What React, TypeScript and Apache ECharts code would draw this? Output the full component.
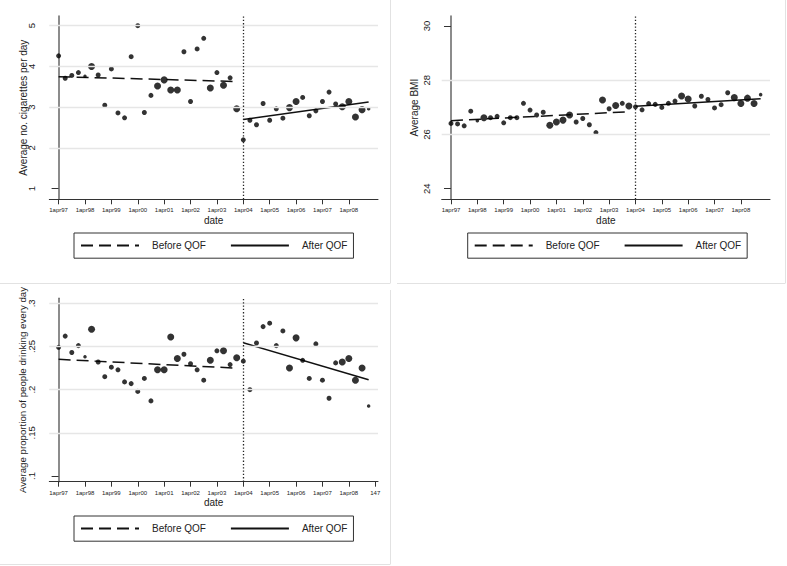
import React, { useEffect, useRef } from "react";
import * as echarts from "echarts";

// ---- data ----
const yearTickLabels = [
  "1apr97", "1apr98", "1apr99", "1apr00", "1apr01", "1apr02",
  "1apr03", "1apr04", "1apr05", "1apr06", "1apr07", "1apr08",
];
const drinkExtraTickLabel = "147";
const qofStartQuarter = 28;

const cigarettes = [
  4.26, 3.71, 3.78, 3.85, 3.76, 4.0, 3.79, 3.05, 3.94, 2.86,
  2.74, 4.24, 5.0, 2.87, 3.29, 3.52, 3.67, 3.42, 3.42, 4.36,
  3.14, 4.43, 4.69, 3.47, 3.85, 3.54, 3.72, 2.96, 2.2, 2.68,
  2.57, 3.09, 2.68, 2.96, 2.73, 2.99, 3.14, 3.24, 2.79, 2.91,
  3.14, 3.37, 3.08, 3.01, 3.14, 2.76, 2.94, 2.96,
];
const bmi = [
  26.41, 26.39, 26.32, 26.86, 26.51, 26.62, 26.62, 26.67, 26.43, 26.62,
  26.62, 27.15, 26.9, 26.72, 26.82, 26.34, 26.46, 26.53, 26.72, 26.46,
  26.59, 26.36, 26.07, 27.27, 26.95, 27.07, 27.15, 27.05, 27.02, 26.91,
  27.14, 27.11, 27.0, 27.15, 27.23, 27.42, 27.31, 27.05, 27.41, 27.29,
  26.98, 27.1, 27.54, 27.36, 27.14, 27.34, 27.14, 27.47,
];
const drinking = [
  0.249, 0.262, 0.243, 0.251, 0.238, 0.27, 0.232, 0.215, 0.226, 0.223,
  0.209, 0.207, 0.198, 0.213, 0.187, 0.223, 0.223, 0.261, 0.236, 0.241,
  0.23, 0.223, 0.211, 0.234, 0.245, 0.245, 0.229, 0.237, 0.233, 0.2,
  0.254, 0.273, 0.277, 0.251, 0.268, 0.225, 0.26, 0.234, 0.213, 0.253,
  0.211, 0.19, 0.231, 0.232, 0.236, 0.211, 0.225, 0.181,
];
// sample-size class of each quarter (1 small, 2 medium, 3 large)
const weights = [
  2, 2, 2, 2, 1, 3, 2, 2, 2, 2,
  2, 2, 2, 2, 2, 3, 3, 3, 3, 2,
  2, 2, 2, 3, 2, 3, 2, 3, 2, 2,
  2, 2, 2, 2, 2, 3, 3, 2, 2, 2,
  2, 2, 2, 3, 3, 3, 3, 1,
];
const cigFitBefore = [3.75, 3.63];
const cigFitAfter = [2.7, 3.13];
const bmiFitBefore = [26.51, 26.84];
const bmiFitAfter = [27.04, 27.32];
const drinkFitBefore = [0.2351, 0.2249];
const drinkFitAfter = [0.2543, 0.2114];

const cigTicks = [1, 2, 3, 4, 5];
const cigGrid = [2, 3, 4, 5];
const bmiTicks = [24, 26, 28, 30];
const bmiGrid = [26, 28];
const drinkTicks = [0.1, 0.15, 0.2, 0.25, 0.3];
const drinkGrid = [0.15, 0.2, 0.25, 0.3];

const FONT = "'Liberation Sans', Arial, Helvetica, sans-serif";
const sizeMap: Record<number, number> = { 1: 3.5, 2: 5, 3: 7 };

type Panel = {
  values: number[];
  before: number[];
  after: number[];
  ticks: number[];
  gridVals: number[];
  yName: string;
  yNameSize: number;
  yMin: number;
  yMax: number;
  labelMargin: number;
  nameGap: number;
  xLabels: string[];
  grid: { left: number; top: number; width: number; height: number };
  legend: { left: number; top: number };
  fmt: (v: number) => string;
};

const panels: Panel[] = [
  {
    values: cigarettes, before: cigFitBefore, after: cigFitAfter,
    ticks: cigTicks, gridVals: cigGrid, yName: "Average no. cigarettes per day", yNameSize: 10,
    yMin: 0.74, yMax: 5.238, labelMargin: 13, nameGap: 21,
    xLabels: yearTickLabels,
    grid: { left: 49.3, top: 16, width: 328.7, height: 183.3 },
    legend: { left: 74, top: 233 },
    fmt: (v) => String(v),
  },
  {
    values: bmi, before: bmiFitBefore, after: bmiFitAfter,
    ticks: bmiTicks, gridVals: bmiGrid, yName: "Average BMI", yNameSize: 10,
    yMin: 23.61, yMax: 30.37, labelMargin: 10, nameGap: 22,
    xLabels: yearTickLabels,
    grid: { left: 441.7, top: 16, width: 328.3, height: 183.3 },
    legend: { left: 467.7, top: 233 },
    fmt: (v) => String(v),
  },
  {
    values: drinking, before: drinkFitBefore, after: drinkFitAfter,
    ticks: drinkTicks, gridVals: drinkGrid, yName: "Average proportion of people drinking every day", yNameSize: 9.7,
    yMin: 0.0934, yMax: 0.3058, labelMargin: 13, nameGap: 22,
    xLabels: [...yearTickLabels, drinkExtraTickLabel],
    grid: { left: 49.3, top: 298.3, width: 328.7, height: 183.4 },
    legend: { left: 74, top: 516 },
    fmt: (v) => String(+v.toFixed(2)).replace(/^0\./, "."),
  },
];

function buildOption() {
  const grids: any[] = [];
  const xAxes: any[] = [];
  const yAxes: any[] = [];
  const series: any[] = [];
  const legends: any[] = [];

  panels.forEach((p, i) => {
    grids.push({ ...p.grid, containLabel: false });
    const xTickVals = p.xLabels.map((_, k) => k * 4);
    xAxes.push({
      type: "value",
      gridIndex: i,
      min: -1.41,
      max: 48.42,
      name: "date",
      nameLocation: "middle",
      nameGap: 16,
      nameMoveOverlap: false,
      nameTextStyle: { fontFamily: FONT, fontSize: 10, color: "#222" },
      axisLine: { show: true, lineStyle: { color: "#333", width: 1 } },
      axisTick: { show: true, customValues: xTickVals, length: 5, lineStyle: { color: "#333" } },
      axisLabel: {
        show: true,
        customValues: xTickVals,
        margin: 8,
        fontSize: 6,
        fontFamily: FONT,
        color: "#222",
        formatter: (v: number) => p.xLabels[Math.round(v / 4)] ?? "",
      },
      splitLine: { show: false },
    });
    yAxes.push({
      type: "value",
      gridIndex: i,
      min: p.yMin,
      max: p.yMax,
      name: p.yName,
      nameLocation: "middle",
      nameRotate: 90,
      nameGap: p.nameGap,
      nameMoveOverlap: false,
      nameTextStyle: { fontFamily: FONT, fontSize: p.yNameSize, color: "#222" },
      axisLine: { show: true, lineStyle: { color: "#666", width: 1.5 } },
      axisTick: { show: true, customValues: p.ticks, length: 7, lineStyle: { color: "#333" } },
      axisLabel: {
        show: true,
        customValues: p.ticks,
        rotate: 90,
        margin: p.labelMargin,
        fontSize: 9.5,
        fontFamily: FONT,
        color: "#222",
        formatter: (v: number) => p.fmt(v),
      },
      splitLine: { show: false },
    });

    series.push({
      type: "line",
      xAxisIndex: i,
      yAxisIndex: i,
      data: [],
      silent: true,
      z: 0,
      markLine: {
        silent: true,
        symbol: "none",
        label: { show: false },
        lineStyle: { color: "#e6e6e6", width: 1.3, type: "solid" },
        data: [
          ...p.gridVals.map((v) => ({ yAxis: v })),
          { xAxis: qofStartQuarter, lineStyle: { color: "#222", width: 1.3, type: [1.3, 2] } },
        ],
      },
    });
    series.push({
      type: "scatter",
      xAxisIndex: i,
      yAxisIndex: i,
      data: p.values.map((v, k) => [k, v, weights[k]]),
      symbol: "circle",
      symbolSize: (d: number[]) => sizeMap[d[2]],
      itemStyle: { color: "#000" },
      z: 3,
    });
    series.push({
      name: "Before QOF",
      type: "line",
      xAxisIndex: i,
      yAxisIndex: i,
      data: [[0, p.before[0]], [qofStartQuarter - 1, p.before[1]]],
      symbol: "none",
      itemStyle: { color: "#111" },
      lineStyle: { color: "#111", width: 1.5, type: [12, 6] },
      z: 2,
    });
    series.push({
      name: "After QOF",
      type: "line",
      xAxisIndex: i,
      yAxisIndex: i,
      data: [[qofStartQuarter, p.after[0]], [p.values.length - 1, p.after[1]]],
      symbol: "none",
      itemStyle: { color: "#111" },
      lineStyle: { color: "#111", width: 1.5, type: "solid" },
      z: 2,
    });

    legends.push({
      left: p.legend.left,
      top: p.legend.top,
      orient: "horizontal",
      data: ["Before QOF", "After QOF"],
      selectedMode: false,
      padding: [7, 6, 7, 6],
      itemWidth: 58,
      itemHeight: 14,
      itemGap: 24,
      borderColor: "#333",
      borderWidth: 1,
      backgroundColor: "#fff",
      itemStyle: { opacity: 0, color: "transparent", borderWidth: 0 },
      lineStyle: { width: 2, color: "#111" },
      textStyle: { fontFamily: FONT, fontSize: 10, color: "#222", padding: [0, 0, 0, 8] },
    });
  });

  const border = "#e2e2e2";
  const graphic = [
    { type: "line", shape: { x1: 390.5, y1: 0, x2: 390.5, y2: 283 }, style: { stroke: border, lineWidth: 1 } },
    { type: "line", shape: { x1: 0, y1: 283.5, x2: 390.5, y2: 283.5 }, style: { stroke: border, lineWidth: 1 } },
    { type: "line", shape: { x1: 785.5, y1: 0, x2: 785.5, y2: 283 }, style: { stroke: border, lineWidth: 1 } },
    { type: "line", shape: { x1: 397, y1: 283.5, x2: 785.5, y2: 283.5 }, style: { stroke: border, lineWidth: 1 } },
    { type: "line", shape: { x1: 390.5, y1: 290, x2: 390.5, y2: 564 }, style: { stroke: border, lineWidth: 1 } },
    { type: "line", shape: { x1: 0, y1: 564.5, x2: 390.5, y2: 564.5 }, style: { stroke: border, lineWidth: 1 } },
  ];

  return {
    animation: false,
    backgroundColor: "#fff",
    textStyle: { fontFamily: FONT },
    grid: grids,
    xAxis: xAxes,
    yAxis: yAxes,
    legend: legends,
    series,
    graphic,
  };
}

export default function App() {
  const ref = useRef<HTMLDivElement>(null);
  useEffect(() => {
    if (!ref.current) return;
    const chart = echarts.init(ref.current, undefined, { renderer: "svg" });
    chart.setOption(buildOption() as any);
    return () => chart.dispose();
  }, []);
  return (
    <div
      ref={ref}
      style={{ position: "absolute", left: 0, top: 0, width: 787, height: 566, background: "#fff" }}
    />
  );
}
